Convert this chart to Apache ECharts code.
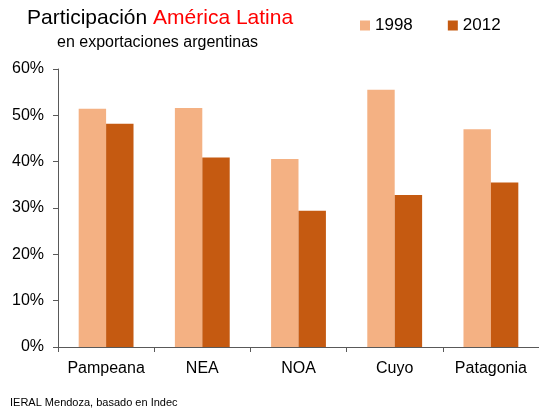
<!DOCTYPE html>
<html>
<head>
<meta charset="utf-8">
<script src="https://cdn.jsdelivr.net/npm/echarts@6/dist/echarts.min.js"></script>
<style>
  html, body { margin: 0; padding: 0; background: #fff; }
  #chart { width: 539px; height: 408px; }
</style>
</head>
<body>
<div id="chart"></div>
<script>
// datos
const regiones = ['Pampeana', 'NEA', 'NOA', 'Cuyo', 'Patagonia']
const serie1998 = [51.4, 51.6, 40.6, 55.5, 47.0]
const serie2012 = [48.2, 40.9, 29.4, 32.8, 35.5]
const anios = ['1998', '2012']

const font = 'Liberation Sans, Arial, sans-serif'

const chart = echarts.init(document.getElementById('chart'))
chart.setOption({
  animation: false,
  title: [{
    text: '{a|Participación }{b|América Latina}',
    left: 27,
    top: 8,
    padding: 0,
    textStyle: {
      rich: {
        a: { fontSize: 21, fontWeight: 'normal', color: '#000', fontFamily: font },
        b: { fontSize: 21, fontWeight: 'normal', color: '#ff0000', fontFamily: font }
      }
    }
  }, {
    text: 'en exportaciones argentinas',
    left: 57,
    top: 35,
    padding: 0,
    textStyle: { fontSize: 16, fontWeight: 'normal', color: '#000', fontFamily: font }
  }, {
    text: 'IERAL Mendoza, basado en Indec',
    left: 10,
    top: 397,
    padding: 0,
    textStyle: { fontSize: 11, fontWeight: 'normal', color: '#000', fontFamily: font }
  }],
  legend: {
    data: anios,
    left: 355,
    top: 12,
    itemWidth: 10,
    itemHeight: 10,
    itemGap: 35,
    icon: 'rect',
    textStyle: { fontSize: 17, color: '#000', fontFamily: font }
  },
  grid: {
    left: 58,
    top: 69,
    width: 485,
    height: 278,
    containLabel: false
  },
  xAxis: {
    type: 'category',
    data: regiones,
    axisLine: { lineStyle: { color: '#595959', width: 1 } },
    axisTick: { show: true, interval: 0, length: 5, lineStyle: { color: '#595959' } },
    axisLabel: { interval: 0, hideOverlap: false, fontSize: 16, color: '#000', fontFamily: font, margin: 14 }
  },
  yAxis: {
    type: 'value',
    min: 0,
    max: 60,
    interval: 10,
    axisLine: { show: true, lineStyle: { color: '#595959', width: 1 } },
    axisTick: { show: true, length: 5, lineStyle: { color: '#595959' } },
    splitLine: { show: false },
    axisLabel: { fontSize: 16, color: '#000', fontFamily: font, margin: 14, formatter: '{value}%' }
  },
  series: [{
    name: anios[0],
    type: 'bar',
    data: serie1998,
    barGap: '0%',
    barCategoryGap: '43%',
    itemStyle: { color: '#f4b183' }
  }, {
    name: anios[1],
    type: 'bar',
    data: serie2012,
    itemStyle: { color: '#c55a11' }
  }]
})
</script>
</body>
</html>
